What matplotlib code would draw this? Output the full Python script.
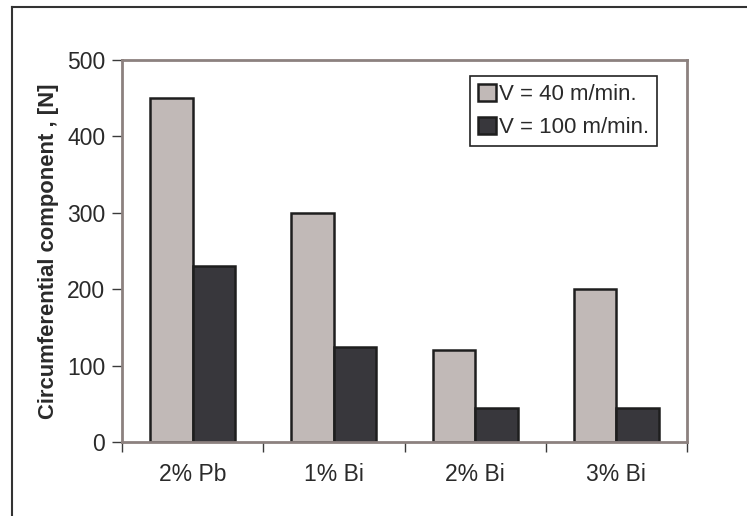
import matplotlib
matplotlib.use("Agg")
import matplotlib.pyplot as plt
import numpy as np
from matplotlib.lines import Line2D

# data
alloys = ["2% Pb", "1% Bi", "2% Bi", "3% Bi"]
v40 = [450, 300, 120, 200]
v100 = [230, 125, 45, 45]
series_labels = ["V = 40 m/min.", "V = 100 m/min."]

plt.rcParams["font.family"] = ["Liberation Sans", "DejaVu Sans"]

fig = plt.figure(figsize=(7.47, 5.16), dpi=100)
ax = fig.add_axes([0.1633, 0.1434, 0.9197 - 0.1633, 0.8837 - 0.1434])

ind = np.arange(len(alloys))
w = 0.3
ax.bar(ind - w / 2, v40, w, color="#c1b9b7", edgecolor="#1e1e1e", linewidth=1.8,
       label=series_labels[0])
ax.bar(ind + w / 2, v100, w, color="#38373c", edgecolor="#1e1e1e", linewidth=1.8,
       label=series_labels[1])

ax.set_xlim(-0.5, len(alloys) - 0.5)
ax.set_ylim(0, 500)
ax.set_yticks(range(0, 501, 100))
ax.set_xticks(ind)
ax.set_xticklabels(alloys)
ax.set_xticks(np.arange(-0.5, len(alloys), 1.0), minor=True)
ax.tick_params(axis="x", which="major", length=0, pad=15, labelsize=16.5, labelcolor="#2a2a2a")
ax.tick_params(axis="x", which="minor", length=7, width=1, color="#3a3a3a")
ax.tick_params(axis="y", length=7, width=1, color="#3a3a3a", pad=5, labelsize=16.5,
               labelcolor="#2a2a2a")

for s in ax.spines.values():
    s.set_color("#8c817f")
    s.set_linewidth(2)

ax.set_ylabel("Circumferential component , [N]", fontsize=15.8, fontweight="bold",
              color="#2a2a2a", labelpad=6)

leg = ax.legend(loc="upper right", bbox_to_anchor=(0.947, 0.958), borderaxespad=0,
                fontsize=16, fancybox=False, framealpha=1, edgecolor="#222222",
                handlelength=0.8, handleheight=0.8, handletextpad=0.15,
                labelspacing=0.55, borderpad=0.35, labelcolor="#2a2a2a")
leg.get_frame().set_linewidth(1.2)

# outer frame (left and top edges visible in the reference)
fig.add_artist(Line2D([0.016, 0.016], [0, 0.9864], color="#333333", lw=1.5,
                      transform=fig.transFigure))
fig.add_artist(Line2D([0.016, 1.0], [0.9864, 0.9864], color="#333333", lw=1.5,
                      transform=fig.transFigure))

fig.savefig("out.png", dpi=100)
